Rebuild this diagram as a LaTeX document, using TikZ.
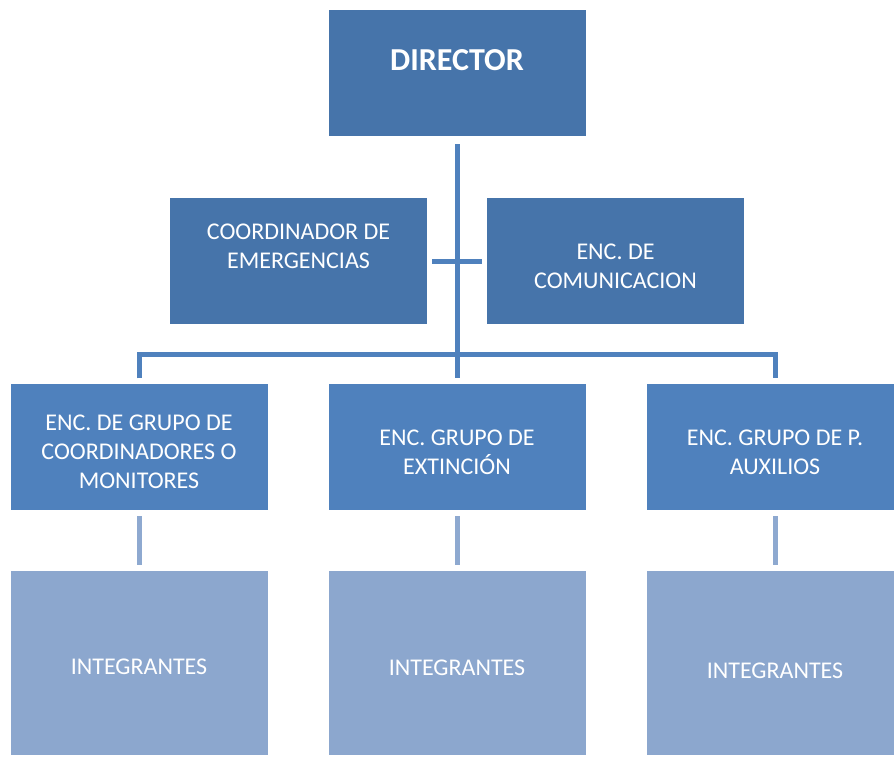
\documentclass[tikz,border=0pt]{standalone}
\usepackage{fontspec}
\setmainfont{Carlito}
\usepackage{xcolor}
\usetikzlibrary{positioning}

\definecolor{bossblue}{HTML}{4674AA}
\definecolor{groupblue}{HTML}{4F81BD}
\definecolor{memberblue}{HTML}{8CA7CE}
\definecolor{sublinkblue}{HTML}{8EA9D0}

\begin{document}
\begin{tikzpicture}[x=0.5pt, y=-0.5pt, node distance=30.5pt,
  box/.style={minimum width=128.5pt, minimum height=63pt,
    inner sep=0pt, outer sep=0pt},
  boss/.style={box, fill=bossblue},
  group/.style={box, fill=groupblue},
  member/.style={box, fill=memberblue, minimum height=91.5pt},
  boxtext/.style={text=white, align=center, inner sep=0pt,
    font=\fontsize{12}{14.6}\selectfont},
  link/.style={draw=groupblue, line width=2.5pt},
  sublink/.style={draw=sublinkblue, line width=2.5pt,
    shorten <=3pt, shorten >=3pt}
]
  % The page: white, and cut at the right edge like the chart.
  \clip (0,0) rectangle (894,758);
  \fill[white] (0,0) rectangle (894,758);

  % Top of the chart, with the two staff boxes beside its line.
  \node [boss, label={[boxtext, yshift=6.75pt,
      font=\bfseries\fontsize{16}{19}\selectfont]center:DIRECTOR}]
    (director) at (457,73.5) {};
  \node [boss, label={[boxtext, yshift=7.75pt]center:COORDINADOR DE\\EMERGENCIAS}]
    (coord) at (298.5,261.5) {};
  \node [boss, label={[boxtext, yshift=-2.5pt]center:ENC. DE\\COMUNICACION}]
    (comm) at (615.5,261.5) {};

  % The three group heads, side by side under the director.
  \node [group, below=124pt of director,
      label={[boxtext, yshift=-2.25pt]center:ENC. GRUPO DE\\EXTINCIÓN}]
    (extincion) {};
  \node [group, left=of extincion,
      label={[boxtext, yshift=-2.25pt]center:ENC. DE GRUPO DE\\COORDINADORES O\\MONITORES}]
    (monitores) {};
  \node [group, right=of extincion,
      label={[boxtext, yshift=-2.25pt]center:ENC. GRUPO DE P.\\AUXILIOS}]
    (auxilios) {};

  % Members of each group.
  \node [member, below=of monitores,
      label={[boxtext, yshift=-1.75pt]center:INTEGRANTES}] (intmonitores) {};
  \node [member, below=of extincion,
      label={[boxtext, yshift=-2.25pt]center:INTEGRANTES}] (intextincion) {};
  \node [member, below=of auxilios,
      label={[boxtext, yshift=-3.75pt]center:INTEGRANTES}] (intauxilios) {};

  % Where the line from the director meets the groups' bar.
  \coordinate (bus) at (457,355);

  \draw [link, shorten <=4pt, shorten >=3pt] (director.south) -- (extincion.north);
  \draw [link, shorten <=2.5pt, shorten >=2.5pt] (coord.east) -- (comm.west);
  \draw [link, shorten <=3pt, shorten >=3pt]
    (monitores.north) |- (bus) -| (auxilios.north);

  \draw [sublink] (monitores.south) -- (intmonitores.north);
  \draw [sublink] (extincion.south) -- (intextincion.north);
  \draw [sublink] (auxilios.south) -- (intauxilios.north);
\end{tikzpicture}
\end{document}
